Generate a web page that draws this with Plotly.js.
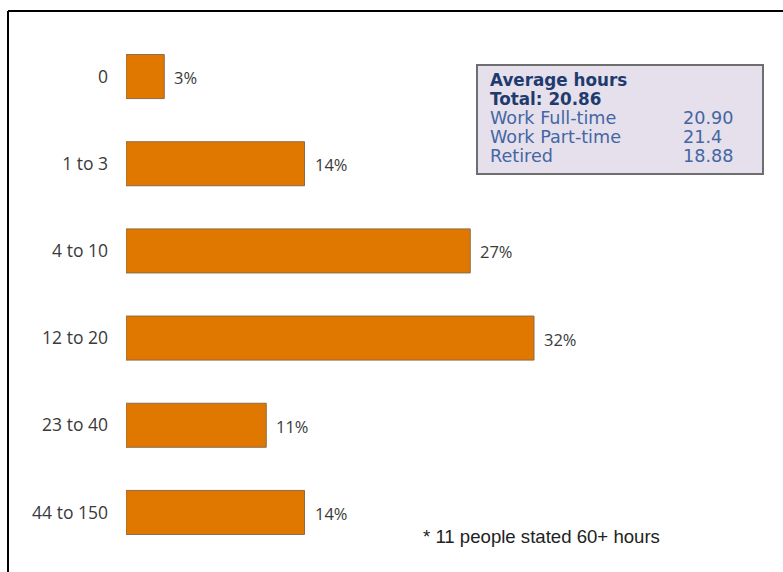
<!DOCTYPE html>
<html>
<head>
<meta charset="utf-8">
<script src="https://cdn.plot.ly/plotly-3.0.1.min.js"></script>
<style>html,body{margin:0;padding:0;background:#fff;}#chart{width:783px;height:572px;}</style>
</head>
<body>
<div id="chart"></div>
<script>
// ---- data ----
const categories = ["0", "1 to 3", "4 to 10", "12 to 20", "23 to 40", "44 to 150"];
const percents = [3, 14, 27, 32, 11, 14];
const boxTitle = "Average hours";
const boxTotal = "Total: 20.86";
const groupLabels = ["Work Full-time", "Work Part-time", "Retired"];
const groupValues = ["20.90", "21.4", "18.88"];
const footnote = "* 11 people stated 60+ hours";

// ---- layout geometry ----
const W = 783, H = 572;
const M = {l: 126, r: 0, t: 33, b: 16};
const PW = W - M.l - M.r, PH = H - M.t - M.b;
const px = v => (v - M.l) / PW;
const py = v => 1 - (v - M.t) / PH;

const trace = {
  type: "bar",
  orientation: "h",
  y: categories,
  x: percents,
  width: 0.505,
  marker: {color: "#E07800", line: {color: "#8C6A48", width: 1}},
  hoverinfo: "skip"
};

const annotations = categories.map((c, i) => ({
  x: percents[i], y: c, xref: "x", yref: "y",
  text: percents[i] + "%", showarrow: false,
  xanchor: "left", yanchor: "middle", xshift: 8, yshift: -1,
  font: {family: "Open Sans", size: 16.5, color: "#3A3A3A", weight: 500}
}));

// box text: one multi-line annotation per column (line pitch = 1.3 * 14.6 ≈ 19px)
const boldStyle = "font-size:16.8px;font-weight:bold;fill:#1F3B6E";
const regStyle = "font-size:17.6px;fill:#4466A3";
const leftLines = [
  `<span style="${boldStyle}">${boxTitle}</span>`,
  `<span style="${boldStyle}">${boxTotal}</span>`
].concat(groupLabels.map(g => `<span style="${regStyle}">${g}</span>`));
annotations.push({x: px(488), y: py(117.5), xref: "paper", yref: "paper", text: leftLines.join("<br>"), showarrow: false, xanchor: "left", yanchor: "middle", align: "left",
  font: {family: "DejaVu Sans", size: 14.6, color: "#4466A3"}});
annotations.push({x: px(681), y: py(136.5), xref: "paper", yref: "paper", text: groupValues.map(v => `<span style="${regStyle}">${v}</span>`).join("<br>"), showarrow: false, xanchor: "left", yanchor: "middle", align: "left",
  font: {family: "DejaVu Sans", size: 14.6, color: "#4466A3"}});

annotations.push({x: px(421), y: py(536), xref: "paper", yref: "paper", text: footnote, showarrow: false, xanchor: "left", yanchor: "middle", font: {family: "Liberation Sans", size: 18.6, color: "#222222"}});

const shapes = [
  {type: "rect", xref: "paper", yref: "paper", x0: px(477), x1: px(763), y0: py(65), y1: py(174), fillcolor: "#E5E0EC", line: {color: "#6E6E6E", width: 2}, layer: "below"},
  {type: "line", xref: "paper", yref: "paper", x0: px(8), x1: px(790), y0: py(11), y1: py(11), line: {color: "#000", width: 2}},
  {type: "line", xref: "paper", yref: "paper", x0: px(8), x1: px(8), y0: py(11), y1: py(580), line: {color: "#000", width: 2}}
];

const layout = {
  width: W, height: H,
  margin: M,
  paper_bgcolor: "#fff", plot_bgcolor: "#fff",
  showlegend: false,
  xaxis: {range: [0, PW / 12.75], visible: false, fixedrange: true},
  yaxis: {type: "category", autorange: "reversed", showgrid: false, zeroline: false, showline: false, ticks: "", ticklabelstandoff: 17,
          tickfont: {family: "Open Sans", size: 17.5, color: "#3A3A3A"}, fixedrange: true},
  annotations: annotations,
  shapes: shapes
};

Plotly.newPlot("chart", [trace], layout, {displayModeBar: false, staticPlot: true});
</script>
</body>
</html>
